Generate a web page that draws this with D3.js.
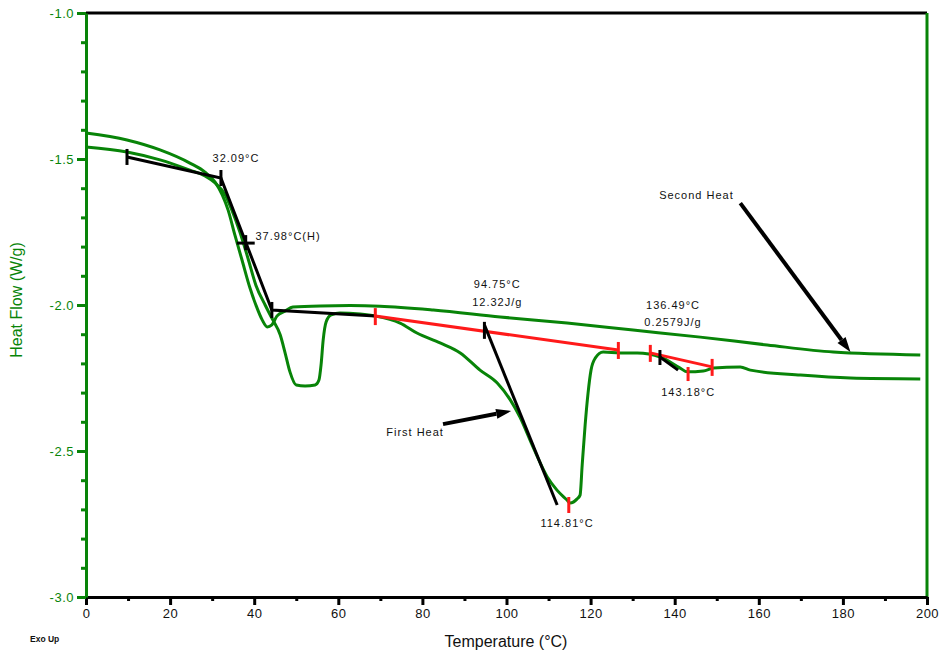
<!DOCTYPE html>
<html><head><meta charset="utf-8">
<script src="https://cdn.jsdelivr.net/npm/d3@7"></script>
<style>
body{margin:0;background:#fff;}
svg{display:block;font-family:"Liberation Sans",Arial,sans-serif;}
</style></head><body>
<svg id="c" width="940" height="656"></svg>
<script>
// ---- data ----
const xTicks = [0,20,40,60,80,100,120,140,160,180,200];
const xMinor = [10,30,50,70,90,110,130,150,170,190];
const yTicks = [-1.0,-1.5,-2.0,-2.5,-3.0];
const yTickLabels = ["-1.0","-1.5","-2.0","-2.5","-3.0"];
const yMinor = [-1.1,-1.2,-1.3,-1.4,-1.6,-1.7,-1.8,-1.9,-2.1,-2.2,-2.3,-2.4,-2.6,-2.7,-2.8,-2.9];

const firstHeatT = [0,9.75,17.6,24.7,28.3,30.7,33.1,34.7,36.6,38.5,40.4,42.6,44.2,46.2,47.3,48.5,50.0,52.1,54.5,55.4,55.9,56.4,57.1,58.3,60.4,65.2,68.8,74.7,78.7,84.2,89.0,93.7,97.8,100.9,103.2,106.3,109.7,112.0,114.4,115.1,116.8,117.5,118.0,118.7,119.4,120.1,121.1,123.0,127.0,131.1,136.6,141.3,143.0,146.8,149.2,155.6,158.0,169.9,181.8,198.4];
const firstHeatV = [-1.459,-1.476,-1.503,-1.538,-1.558,-1.582,-1.623,-1.675,-1.750,-1.839,-1.932,-2.000,-2.045,-2.103,-2.161,-2.229,-2.274,-2.277,-2.274,-2.257,-2.205,-2.120,-2.058,-2.034,-2.027,-2.031,-2.038,-2.062,-2.096,-2.130,-2.164,-2.223,-2.267,-2.325,-2.384,-2.486,-2.589,-2.634,-2.668,-2.678,-2.664,-2.651,-2.548,-2.411,-2.301,-2.223,-2.182,-2.161,-2.164,-2.164,-2.178,-2.216,-2.229,-2.226,-2.216,-2.212,-2.223,-2.240,-2.250,-2.253];

const secondHeatT = [0,9.75,17.6,24.7,28.3,30.7,32.4,33.8,35.4,37.1,39.0,40.4,41.9,43.1,44.2,45.4,47.3,49.2,55.7,62.8,69.9,82.6,98.5,114.4,130.1,146.1,162.0,177.7,198.4];
const secondHeatV = [-1.411,-1.435,-1.469,-1.514,-1.545,-1.579,-1.623,-1.675,-1.760,-1.846,-1.942,-2.000,-2.051,-2.075,-2.068,-2.038,-2.021,-2.007,-2.003,-2.002,-2.004,-2.017,-2.041,-2.062,-2.086,-2.110,-2.137,-2.161,-2.171];

// Glass transition construction (first heat)
const tgLineT = [9.75,32.09,44.2,68.8];
const tgLineV = [-1.493,-1.565,-2.017,-2.038];
const tgTickT = [9.75,32.09,44.2];
const tgMid = [37.98,-1.788];

// Melting integration (first heat)
const meltBaseT = [68.8,126.6];
const meltBaseV = [-2.038,-2.154];
const meltOnsetT = [94.75,112.05];
const meltOnsetV = [-2.068,-2.685];
const meltPeak = [114.81,-2.678];

// Small peak (first heat)
const smallBaseT = [134.2,148.9];
const smallBaseV = [-2.164,-2.212];
const smallOnsetT = [136.49,140.8];
const smallOnsetV = [-2.178,-2.223];
const smallPeak = [143.18,-2.233];

const labels = [
  {t:"32.09°C", T:30.1, V:-1.50, anchor:"start"},
  {t:"37.98°C(H)", T:40.3, V:-1.766, anchor:"start"},
  {t:"94.75°C", T:97.8, V:-1.932, anchor:"middle"},
  {t:"12.32J/g", T:97.8, V:-1.993, anchor:"middle"},
  {t:"114.81°C", T:114.4, V:-2.751, anchor:"middle"},
  {t:"136.49°C", T:139.6, V:-2.005, anchor:"middle"},
  {t:"0.2579J/g", T:139.6, V:-2.061, anchor:"middle"},
  {t:"143.18°C", T:143.2, V:-2.301, anchor:"middle"},
  {t:"Second Heat", T:136.3, V:-1.627, anchor:"start"},
  {t:"First Heat", T:71.4, V:-2.438, anchor:"start"}
];
const arrows = [
  {T1:155.6, V1:-1.651, T2:181.8, V2:-2.161},
  {T1:84.9, V1:-2.408, T2:101.1, V2:-2.363}
];

// ---- drawing ----
const GREEN = "#088408", RED = "#ff1a1a";
const svg = d3.select("#c");
const L = 86, R = 927, T0 = 13, B = 597;
const x = d3.scaleLinear().domain([0,200]).range([L,R]);
const y = d3.scaleLinear().domain([-1,-3]).range([T0,B]);

// frame top/right
svg.append("line").attr("x1",L).attr("x2",R).attr("y1",T0).attr("y2",T0).attr("stroke","#000").attr("stroke-width",3);
svg.append("line").attr("x1",R).attr("x2",R).attr("y1",T0).attr("y2",B).attr("stroke",GREEN).attr("stroke-width",3);

// x axis
const gx = svg.append("g").attr("transform",`translate(0,${B})`)
  .call(d3.axisBottom(x).tickValues(xTicks).tickSize(8).tickSizeOuter(0).tickPadding(4).tickFormat(d3.format("d")));
gx.select(".domain").attr("stroke","#000").attr("stroke-width",3);
gx.selectAll(".tick line").attr("stroke","#000").attr("stroke-width",3);
gx.selectAll("text").attr("font-size",13).attr("fill","#111").attr("font-family","Liberation Sans, Arial, sans-serif").style("letter-spacing","0.5px");
const gxm = svg.append("g").attr("transform",`translate(0,${B})`)
  .call(d3.axisBottom(x).tickValues(xMinor).tickSize(4).tickSizeOuter(0).tickFormat(""));
gxm.select(".domain").remove();
gxm.selectAll(".tick line").attr("stroke","#000").attr("stroke-width",3);

// y axis
const gy = svg.append("g").attr("transform",`translate(${L},0)`)
  .call(d3.axisLeft(y).tickValues(yTicks).tickSize(9).tickSizeOuter(0).tickPadding(3).tickFormat((d,i)=>yTickLabels[i]));
gy.select(".domain").attr("stroke",GREEN).attr("stroke-width",3);
gy.selectAll(".tick line").attr("stroke",GREEN).attr("stroke-width",3);
gy.selectAll("text").attr("font-size",13).attr("fill",GREEN).attr("font-family","Liberation Sans, Arial, sans-serif").style("letter-spacing","0.5px");
const gym = svg.append("g").attr("transform",`translate(${L},0)`)
  .call(d3.axisLeft(y).tickValues(yMinor).tickSize(5).tickSizeOuter(0).tickFormat(""));
gym.select(".domain").remove();
gym.selectAll(".tick line").attr("stroke",GREEN).attr("stroke-width",3);

// titles
svg.append("text").attr("x",506).attr("y",647).attr("text-anchor","middle").attr("font-size",16).attr("fill","#111").text("Temperature (°C)");
svg.append("text").attr("transform","translate(22,300) rotate(-90)").attr("text-anchor","middle").attr("font-size",16).attr("fill",GREEN).text("Heat Flow (W/g)");
svg.append("text").attr("x",30).attr("y",642).attr("font-size",8.5).attr("font-weight","bold").attr("fill","#111").text("Exo Up");

// curves
const zip = (a,b)=>a.map((v,i)=>[v,b[i]]);
const lineC = d3.line().x(d=>x(d[0])).y(d=>y(d[1])).curve(d3.curveMonotoneX);
const lineL = d3.line().x(d=>x(d[0])).y(d=>y(d[1]));
svg.append("path").attr("d",lineC(zip(secondHeatT,secondHeatV))).attr("fill","none").attr("stroke",GREEN).attr("stroke-width",3).attr("stroke-linejoin","round");
svg.append("path").attr("d",lineC(zip(firstHeatT,firstHeatV))).attr("fill","none").attr("stroke",GREEN).attr("stroke-width",3).attr("stroke-linejoin","round");

// Tg construction
svg.append("path").attr("d",lineL(zip(tgLineT,tgLineV))).attr("fill","none").attr("stroke","#000").attr("stroke-width",3);
tgTickT.forEach((t,i)=>{
  const v = tgLineV[i];
  svg.append("line").attr("x1",x(t)).attr("x2",x(t)).attr("y1",y(v)-8).attr("y2",y(v)+8).attr("stroke","#000").attr("stroke-width",3);
});
svg.append("line").attr("x1",x(tgMid[0])-9).attr("x2",x(tgMid[0])+9).attr("y1",y(tgMid[1])).attr("y2",y(tgMid[1])).attr("stroke","#000").attr("stroke-width",3);
svg.append("line").attr("x1",x(tgMid[0])).attr("x2",x(tgMid[0])).attr("y1",y(tgMid[1])-8).attr("y2",y(tgMid[1])+7).attr("stroke","#000").attr("stroke-width",3);

// melt
svg.append("path").attr("d",lineL(zip(meltBaseT,meltBaseV))).attr("stroke",RED).attr("stroke-width",3).attr("fill","none");
meltBaseT.forEach((t,i)=>{
  svg.append("line").attr("x1",x(t)).attr("x2",x(t)).attr("y1",y(meltBaseV[i])-8).attr("y2",y(meltBaseV[i])+9).attr("stroke",RED).attr("stroke-width",3);
});
svg.append("path").attr("d",lineL(zip(meltOnsetT,meltOnsetV))).attr("stroke","#000").attr("stroke-width",3).attr("fill","none");
svg.append("line").attr("x1",x(meltOnsetT[0])).attr("x2",x(meltOnsetT[0])).attr("y1",y(meltOnsetV[0])-3).attr("y2",y(meltOnsetV[0])+14).attr("stroke","#000").attr("stroke-width",3);
svg.append("line").attr("x1",x(meltPeak[0])).attr("x2",x(meltPeak[0])).attr("y1",y(meltPeak[1])-6).attr("y2",y(meltPeak[1])+10).attr("stroke",RED).attr("stroke-width",3);

// small peak
svg.append("path").attr("d",lineL(zip(smallBaseT,smallBaseV))).attr("stroke",RED).attr("stroke-width",3).attr("fill","none");
smallBaseT.forEach((t,i)=>{
  svg.append("line").attr("x1",x(t)).attr("x2",x(t)).attr("y1",y(smallBaseV[i])-8).attr("y2",y(smallBaseV[i])+9).attr("stroke",RED).attr("stroke-width",3);
});
svg.append("line").attr("x1",x(smallPeak[0])).attr("x2",x(smallPeak[0])).attr("y1",y(smallPeak[1])-6).attr("y2",y(smallPeak[1])+8).attr("stroke",RED).attr("stroke-width",3);
svg.append("path").attr("d",lineL(zip(smallOnsetT,smallOnsetV))).attr("stroke","#000").attr("stroke-width",3).attr("fill","none");
svg.append("line").attr("x1",x(smallOnsetT[0])).attr("x2",x(smallOnsetT[0])).attr("y1",y(smallOnsetV[0])-7).attr("y2",y(smallOnsetV[0])+8).attr("stroke","#000").attr("stroke-width",3);

// arrows
arrows.forEach(a=>{
  const x1=x(a.T1), y1=y(a.V1), x2=x(a.T2), y2=y(a.V2);
  const ang = Math.atan2(y2-y1,x2-x1);
  const hl = 15, hw = 5;
  const bx = x2 - hl*Math.cos(ang), by = y2 - hl*Math.sin(ang);
  svg.append("line").attr("x1",x1).attr("y1",y1).attr("x2",bx).attr("y2",by).attr("stroke","#000").attr("stroke-width",4);
  const px = -Math.sin(ang), py = Math.cos(ang);
  svg.append("path").attr("d",`M${x2},${y2}L${bx+px*hw},${by+py*hw}L${bx-px*hw},${by-py*hw}Z`).attr("fill","#000");
});

// labels
labels.forEach(l=>{
  svg.append("text").attr("x",x(l.T)).attr("y",y(l.V)).attr("text-anchor",l.anchor)
    .attr("dominant-baseline","middle").attr("font-size",11).attr("fill","#111")
    .style("letter-spacing","1px").text(l.t);
});
</script></body></html>
